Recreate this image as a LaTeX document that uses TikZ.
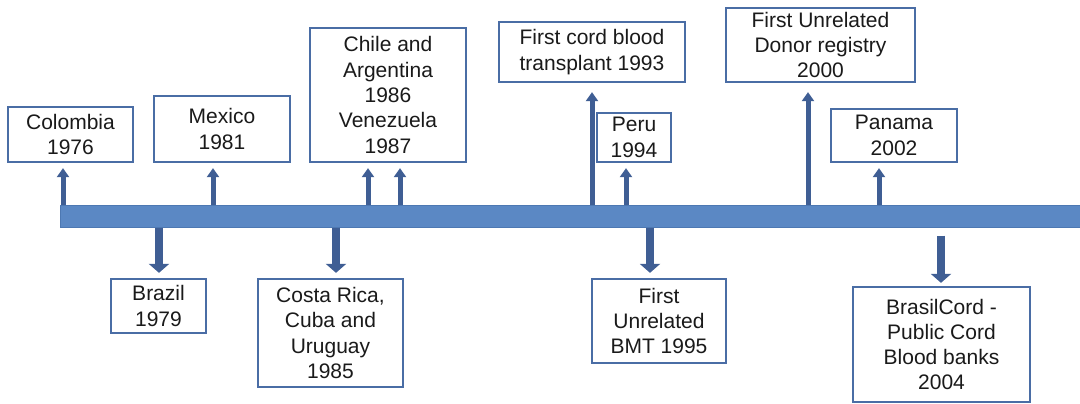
\documentclass[tikz,border=0pt]{standalone}
\usepackage{fontspec}
\setmainfont{Liberation Sans}
\usepackage{tikz}
\usepackage{xcolor}
\usetikzlibrary{arrows.meta, positioning, calc}
\definecolor{barblue}{HTML}{5B88C4}
\definecolor{baredge}{HTML}{4D78B2}
\definecolor{boxedge}{HTML}{4A6DA5}
\definecolor{arrowblue}{HTML}{3F5E94}
\definecolor{txtgray}{HTML}{1A1A1A}

\begin{document}
\begin{tikzpicture}[x=1pt, y=-1pt,
  event/.style={draw=boxedge, line width=2.3pt, fill=white, align=center, inner sep=0pt, text=txtgray, font=\fontsize{21}{25.3}\selectfont},
  uparr/.style={draw=arrowblue, line width=5pt, -{Triangle[width=12pt,length=9pt]}, shorten >=5pt},
  downarr/.style={draw=arrowblue, line width=7.5pt, -{Triangle[width=20pt,length=9pt]}, shorten >=5pt}]
\useasboundingbox (0,0) rectangle (1080,404);

% Draw timeline bar
\node[draw=baredge, fill=barblue, line width=1pt, minimum width=1020pt, minimum height=22pt, inner sep=0pt] (bar) at (570,216) {};

% Events above the bar
\node[event, minimum width=125pt, minimum height=55pt] (colombia) at (70.5,134.5) {Colombia\\1976};
\node[event, minimum width=136pt, minimum height=66pt] (mexico) at (222,129) {Mexico\\1981};
\node[event, minimum width=156pt, minimum height=134pt] (chile) at (388,95) {Chile and\\Argentina\\1986\\Venezuela\\1987};
\node[event, minimum width=186pt, minimum height=60pt] (cord) at (592,52) {First cord blood\\transplant 1993};
\node[event, minimum width=74pt, minimum height=49pt] (peru) at (634,137.5) {Peru\\1994};
\node[event, minimum width=189pt, minimum height=74pt] (donor) at (820.5,45) {First Unrelated\\Donor registry\\2000};
\node[event, minimum width=126pt, minimum height=53pt] (panama) at (894,135.5) {Panama\\2002};

% Events below the bar
\node[event, minimum width=95pt, minimum height=54pt] (brazil) at (158.5,306) {Brazil\\1979};
\node[event, minimum width=145pt, minimum height=108pt] (costa) at (330.5,333) {Costa Rica,\\Cuba and\\Uruguay\\1985};
\node[event, minimum width=134pt, minimum height=84pt] (bmt) at (659,321) {First\\Unrelated\\BMT 1995};
\node[event, minimum width=177pt, minimum height=115pt] (brasilcord) at (941.5,344.5) {BrasilCord -\\Public Cord\\Blood banks\\2004};

% Arrows up
\draw[uparr] (bar.north -| 63,0) -- (colombia.south -| 63,0);
\draw[uparr] (bar.north -| 213,0) -- (mexico.south -| 213,0);
\draw[uparr] (bar.north -| 368,0) -- (chile.south -| 368,0);
\draw[uparr] (bar.north -| 400,0) -- (chile.south -| 400,0);
\draw[uparr, shorten >=9pt] (bar.north -| 592,0) -- (cord.south -| 592,0);
\draw[uparr] (bar.north -| 626,0) -- (peru.south -| 626,0);
\draw[uparr, shorten >=9pt] (bar.north -| 808,0) -- (donor.south -| 808,0);
\draw[uparr] (bar.north -| 879,0) -- (panama.south -| 879,0);

% Arrows down
\draw[downarr] (bar.south -| 159,0) -- (brazil.north -| 159,0);
\draw[downarr] (bar.south -| 336,0) -- (costa.north -| 336,0);
\draw[downarr] (bar.south -| 650,0) -- (bmt.north -| 650,0);
\draw[downarr, shorten <=8pt, shorten >=3pt] (bar.south -| 941,0) -- (brasilcord.north -| 941,0);
\end{tikzpicture}
\end{document}
